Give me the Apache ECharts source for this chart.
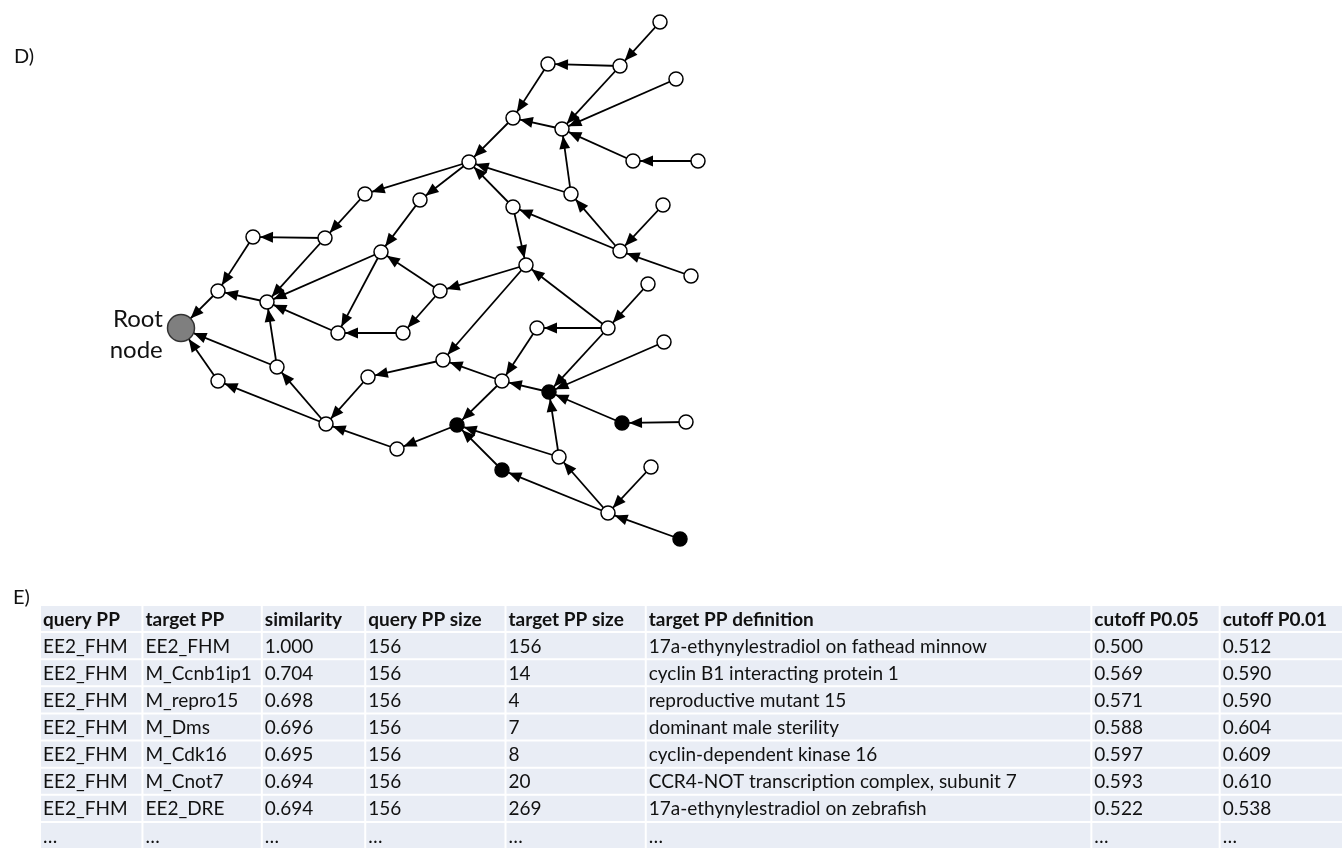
<!DOCTYPE html>
<html>
<head>
<meta charset="utf-8">
<title>D) network / E) similarity table</title>
<script src="https://cdn.jsdelivr.net/npm/echarts@6/dist/echarts.min.js"></script>
<style>
html, body {
	margin: 0;
	padding: 0;
	background: #fff;
}
#main {
	width: 1344px;
	height: 850px;
}
</style>
</head>
<body>
<div id="main"></div>
<script type="text/javascript">
    // node positions (index = node id, 0 = root)
    var nodeX = [181, 660, 620, 548, 676, 513, 562, 633, 698, 469,
                 420, 571, 365, 513, 663, 253, 325, 381, 620, 691,
                 526, 648, 218, 267, 440, 338, 403, 537, 608, 664,
                 443, 277, 368, 218, 502, 549, 622, 686, 457, 326,
                 397, 559, 502, 651, 608, 680];
    var nodeY = [328, 22, 66, 64, 79, 118, 129, 161, 161, 162,
                 200, 194, 194, 207, 205, 237, 238, 252, 251, 276,
                 265, 284, 291, 302, 291, 333, 333, 328, 328, 342,
                 360, 367, 377, 381, 381, 392, 423, 422, 425, 424,
                 449, 457, 470, 467, 513, 539];
    var filledNodes = [35, 36, 38, 42, 45];

    // directed edges: linkFrom[i] -> linkTo[i]
    var linkFrom = [1, 2, 2, 4, 3, 6, 7, 8, 11, 5, 11, 13, 9, 9, 12, 16, 15, 10, 16, 17,
                    17, 24, 24, 26, 25, 22, 23, 31, 31, 33, 39, 39, 32, 30, 40, 38, 13, 20, 20, 28,
                    18, 18, 14, 19, 27, 34, 35, 28, 29, 36, 37, 34, 41, 41, 42, 44, 44, 43, 45, 28, 21];
    var linkTo   = [2, 3, 6, 6, 5, 5, 6, 7, 6, 9, 9, 9, 10, 12, 16, 15, 22, 17, 23, 23,
                    25, 17, 26, 25, 23, 0, 22, 23, 0, 0, 33, 31, 39, 32, 39, 40, 20, 24, 30, 20,
                    13, 11, 18, 18, 34, 30, 34, 35, 35, 35, 36, 38, 35, 38, 38, 42, 41, 44, 44, 27, 28];

    // table E)
    var tableHeader = ['query PP', 'target PP', 'similarity', 'query PP size', 'target PP size',
                       'target PP definition', 'cutoff P0.05', 'cutoff P0.01'];
    var queryPP = ['EE2_FHM', 'EE2_FHM', 'EE2_FHM', 'EE2_FHM', 'EE2_FHM', 'EE2_FHM', 'EE2_FHM', '…'];
    var targetPP = ['EE2_FHM', 'M_Ccnb1ip1', 'M_repro15', 'M_Dms', 'M_Cdk16', 'M_Cnot7', 'EE2_DRE', '…'];
    var similarity = ['1.000', '0.704', '0.698', '0.696', '0.695', '0.694', '0.694', '…'];
    var queryPPSize = ['156', '156', '156', '156', '156', '156', '156', '…'];
    var targetPPSize = ['156', '14', '4', '7', '8', '20', '269', '…'];
    var targetDefinition = ['17a-ethynylestradiol on fathead minnow', 'cyclin B1 interacting protein 1',
                            'reproductive mutant 15', 'dominant male sterility', 'cyclin-dependent kinase 16',
                            'CCR4-NOT transcription complex, subunit 7', '17a-ethynylestradiol on zebrafish', '…'];
    var cutoff05 = ['0.500', '0.569', '0.571', '0.588', '0.597', '0.593', '0.522', '…'];
    var cutoff01 = ['0.512', '0.590', '0.590', '0.604', '0.609', '0.610', '0.538', '…'];

    var tableColumns = [queryPP, targetPP, similarity, queryPPSize, targetPPSize,
                        targetDefinition, cutoff05, cutoff01];

    var myChart = echarts.init(document.getElementById('main'));

    // build graph nodes / links
    var nodes = [];
    for (var i = 0; i < nodeX.length; i++) {
        var item = { name: 'n' + i, value: [nodeX[i], nodeY[i]] };
        if (i === 0) {
            item.symbolSize = 27;
            item.itemStyle = { color: '#7f7f7f', borderColor: '#333', borderWidth: 1.5 };
            item.label = {
                show: true,
                position: 'left',
                distance: 4,
                formatter: 'Root\nnode',
                fontFamily: 'Lato',
                fontSize: 24,
                lineHeight: 31,
                color: '#111',
                align: 'right',
                offset: [0, 7]
            };
        } else if (filledNodes.indexOf(i) >= 0) {
            item.itemStyle = { color: '#000' };
        }
        nodes.push(item);
    }
    var links = [];
    for (var j = 0; j < linkFrom.length; j++) {
        links.push({ source: linkFrom[j], target: linkTo[j] });
    }

    // arrow head: tip sits at the symbol centre (= node border), body trails behind
    var arrowHead = 'path://M12,0 M0,0 M24,24 M0,24 M24,0 M12,12 L7,24 L17,24 Z';

    // table cells: [column, row]
    var cells = [];
    for (var r = 0; r <= queryPP.length; r++) {
        for (var c = 0; c < tableHeader.length; c++) {
            cells.push([c, r]);
        }
    }
    var rowNames = [];
    for (var k = 0; k <= queryPP.length; k++) rowNames.push('r' + k);

    // column edges of the table, in px from its left side (layout only)
    var colEdges = [0, 103, 223, 327, 468, 609, 1057, 1186, 1310];

    function renderCell(params, api) {
        var col = api.value(0);
        var row = api.value(1);
        var p0 = api.coord([colEdges[col], row]);
        var p1 = api.coord([colEdges[col + 1], row]);
        var h = api.size([0, 1])[1];
        var txt = row === 0 ? tableHeader[col] : tableColumns[col][row - 1];
        return {
            type: 'group',
            children: [{
                type: 'rect',
                shape: { x: p0[0], y: p0[1] - h / 2, width: p1[0] - p0[0] - 2, height: h - 2 },
                style: { fill: '#e9edf5' }
            }, {
                type: 'text',
                style: {
                    text: txt,
                    x: p0[0] + 2,
                    y: p0[1],
                    verticalAlign: 'middle',
                    fontFamily: 'Lato',
                    fontSize: 19,
                    fontWeight: row === 0 ? 'bold' : 'normal',
                    fill: '#111'
                }
            }]
        };
    }

    var option = {
        animation: false,
        backgroundColor: '#fff',
        title: [{
            text: 'D)', left: 9, top: 42,
            textStyle: { fontFamily: 'Lato', fontSize: 20, fontWeight: 'normal', color: '#111' }
        }, {
            text: 'E)', left: 8, top: 583,
            textStyle: { fontFamily: 'Lato', fontSize: 20, fontWeight: 'normal', color: '#111' }
        }],
        grid: [
            { left: 0, top: 0, width: 1344, height: 850 },
            { left: 41, top: 606, width: 1310, height: 248.4 }
        ],
        xAxis: [
            { type: 'value', min: 0, max: 1344, show: false, gridIndex: 0 },
            { type: 'value', min: 0, max: 1310, show: false, gridIndex: 1 }
        ],
        yAxis: [
            { type: 'value', min: 0, max: 850, inverse: true, show: false, gridIndex: 0 },
            { type: 'category', data: rowNames, inverse: true, show: false, gridIndex: 1 }
        ],
        series: [{
            type: 'graph',
            coordinateSystem: 'cartesian2d',
            xAxisIndex: 0,
            yAxisIndex: 0,
            layout: 'none',
            symbol: 'circle',
            symbolSize: 14,
            itemStyle: { color: '#fff', borderColor: '#000', borderWidth: 1.5 },
            edgeSymbol: ['none', arrowHead],
            edgeSymbolSize: [0, 26],
            lineStyle: { color: '#000', width: 1.8, opacity: 1, curveness: 0 },
            emphasis: { disabled: true },
            data: nodes,
            links: links
        }, {
            type: 'custom',
            xAxisIndex: 1,
            yAxisIndex: 1,
            clip: false,
            renderItem: renderCell,
            data: cells
        }]
    };

    myChart.setOption(option);
</script>
</body>
</html>
